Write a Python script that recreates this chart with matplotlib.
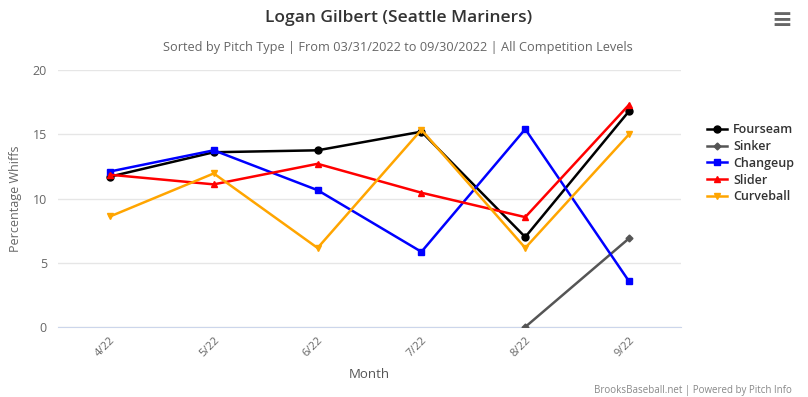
import matplotlib
matplotlib.use("Agg")
import matplotlib.pyplot as plt
from matplotlib.lines import Line2D

months = ["4/22", "5/22", "6/22", "7/22", "8/22", "9/22"]
fourseam = [11.7, 13.6, 13.75, 15.2, 7.0, 16.8]
sinker = [None, None, None, None, 0.0, 6.9]
changeup = [12.1, 13.75, 10.65, 5.85, 15.4, 3.55]
slider = [11.85, 11.1, 12.7, 10.45, 8.55, 17.3]
curveball = [8.6, 11.95, 6.15, 15.35, 6.15, 15.0]

series = [
    ("Fourseam", fourseam, "#000000", "o", 5),
    ("Sinker", sinker, "#555555", "D", 3.5),
    ("Changeup", changeup, "#0000ff", "s", 5),
    ("Slider", slider, "#ff0000", "^", 5),
    ("Curveball", curveball, "#ffa500", "v", 5),
]

plt.rcParams['font.family'] = ['Open Sans', 'DejaVu Sans']

fig = plt.figure(figsize=(8.08, 3.97), dpi=100)
ax = fig.add_axes([58/808, 1-327/397, (681-58)/808, (327-70)/397])

x = list(range(len(months)))
handles = []
for name, vals, color, marker, ms in series:
    xs = [xi for xi, v in zip(x, vals) if v is not None]
    ys = [v for v in vals if v is not None]
    ax.plot(xs, ys, color=color, lw=1.8, marker=marker, ms=ms, zorder=3)
    handles.append(Line2D([0], [0], color=color, lw=1.8, marker=marker, ms=ms))

ax.set_xlim(-0.5, len(months) - 0.5)
ax.set_ylim(0, 20)
ax.set_yticks([0, 5, 10, 15, 20])
ax.set_xticks(x)
ax.set_xticklabels(months, rotation=45, ha="right", rotation_mode="anchor",
                   fontsize=8, color="#666666")
ax.tick_params(axis="x", length=0, pad=6)
ax.tick_params(axis="y", length=0, labelsize=9, labelcolor="#666666", pad=8)
ax.grid(axis="y", color="#e6e6e6", lw=1)
ax.set_axisbelow(True)
for s in ["top", "right", "left"]:
    ax.spines[s].set_visible(False)
ax.spines["bottom"].set_color("#ccd6eb")
ax.spines["bottom"].set_zorder(2)

ax.set_xlabel("Month", fontsize=9.5, color="#555555")
ax.xaxis.set_label_coords((369-58)/(681-58), -(368-327)/(327-70))
ax.set_ylabel("Percentage Whiffs", fontsize=9, color="#666666")
ax.yaxis.set_label_coords(-(58-22)/(681-58), 0.5)

leg = fig.legend(handles, [s[0] for s in series], loc="upper left",
                 bbox_to_anchor=(696/808, 1-112/397), frameon=False,
                 fontsize=9, handlelength=1.6, handletextpad=0.45,
                 labelspacing=0.3)
for t in leg.get_texts():
    t.set_color("#333333")
    t.set_fontweight("semibold")

fig.text(0.493, 1-18/397, "Logan Gilbert (Seattle Mariners)", ha="center", va="center",
         fontsize=12.5, color="#333333", fontweight="semibold", fontstretch="condensed")
fig.text(0.493, 1-47/397, "Sorted by Pitch Type | From 03/31/2022 to 09/30/2022 | All Competition Levels",
         ha="center", va="center", fontsize=9.2, color="#666666")
fig.text(792/808, 1-390/397, "BrooksBaseball.net | Powered by Pitch Info",
         ha="right", va="center", fontsize=7, color="#888888")
fig.text(782/808, 1-20/397, "≡", ha="center", va="center", fontsize=18,
         color="#666666", fontweight="bold", family="DejaVu Sans")

fig.savefig("out.png", dpi=100)
